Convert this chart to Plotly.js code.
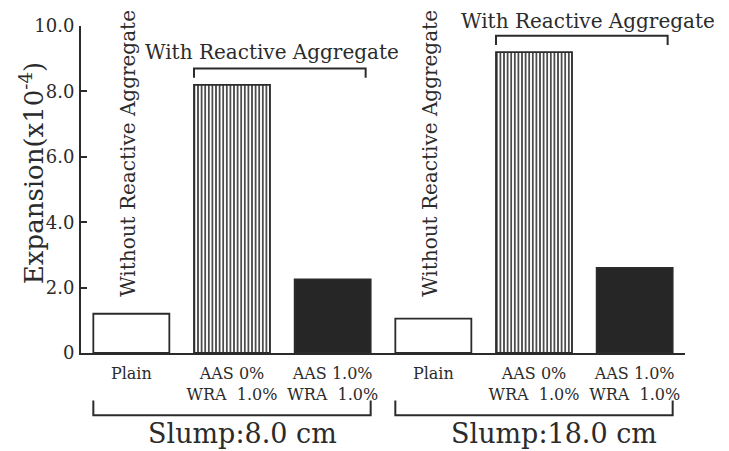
<!DOCTYPE html>
<html>
<head>
<meta charset="utf-8">
<script src="https://cdn.plot.ly/plotly-3.0.1.min.js"></script>
<style>html,body{margin:0;padding:0;background:#fff;}#chart{width:729px;height:451px;}</style>
</head>
<body>
<div id="chart"></div>
<script>
// ---- data ----
const categoryLabels = ["Plain", "AAS 0%<br>WRA  1.0%", "AAS 1.0%<br>WRA  1.0%"];
const groupLabels = ["Slump:8.0 cm", "Slump:18.0 cm"];
const plainValues = [1.2, 1.05];      // Without reactive aggregate
const aas0Values  = [8.2, 9.2];       // AAS 0%, WRA 1.0%
const aas1Values  = [2.25, 2.6];      // AAS 1.0%, WRA 1.0%
const yTickVals = [0, 2, 4, 6, 8, 10];
const yTickText = ["0", "2.0", "4.0", "6.0", "8.0", "10.0"];
const yTitle = "Expansion(x10<sup>-4</sup>)";
const withoutText = "Without Reactive Aggregate";
const withText = "With Reactive Aggregate";

// ---- layout helpers ----
const ink = "#2b2b2b";
const font = "DejaVu Serif, Liberation Serif, serif";
const nCat = categoryLabels.length;
const barW = 0.755;
const pos = (g, c) => g * nCat + c;
const withTextOffset = [-0.075, 0.065];
const withTextShift = [3, 1];

const xTickVals = [], xTickText = [];
groupLabels.forEach((g, gi) => categoryLabels.forEach((c, ci) => { xTickVals.push(pos(gi, ci)); xTickText.push(c); }));

const barLine = {color: ink, width: 1.8};
const traces = [
  {type: "bar", x: groupLabels.map((g, gi) => pos(gi, 0)), y: plainValues, width: barW,
   marker: {color: "#ffffff", line: barLine}, hoverinfo: "y"},
  {type: "bar", x: groupLabels.map((g, gi) => pos(gi, 1)), y: aas0Values, width: barW,
   marker: {color: "#ffffff", line: barLine,
            pattern: {shape: "|", fgcolor: ink, bgcolor: "#ffffff", size: 3.6, solidity: 0.42}}, hoverinfo: "y"},
  {type: "bar", x: groupLabels.map((g, gi) => pos(gi, 2)), y: aas1Values, width: barW,
   marker: {color: "#262626", line: barLine}, hoverinfo: "y"}
];

const shapes = [], annotations = [];
groupLabels.forEach((g, gi) => {
  const withMax = Math.max(aas0Values[gi], aas1Values[gi]);
  const yb = withMax + 0.5, yd = yb - 0.28;
  const x0 = pos(gi, 1) - barW / 2, x1 = pos(gi, 2) + barW / 2 - 0.05;
  shapes.push({type: "path", xref: "x", yref: "y",
    path: `M${x0},${yd} L${x0},${yb} L${x1},${yb} L${x1},${yd}`,
    line: {color: ink, width: 2}});
  annotations.push({xref: "x", yref: "y", x: (x0 + x1) / 2 + withTextOffset[gi], y: yb, yanchor: "bottom",
    yshift: withTextShift[gi], text: withText, showarrow: false, font: {family: font, size: 20, color: ink}});
  annotations.push({xref: "x", yref: "y", x: pos(gi, 0) - 0.04, y: 1.65, yanchor: "bottom", xanchor: "center",
    textangle: -90, text: withoutText, showarrow: false, font: {family: font, size: 20, color: ink}});
  // bottom group bracket
  const bx0 = pos(gi, 0) - barW / 2, bx1 = pos(gi, 2) + barW / 2;
  shapes.push({type: "path", xref: "x", yref: "paper",
    path: `M${bx0},-0.145 L${bx0},-0.19 L${bx1},-0.19 L${bx1},-0.145`,
    line: {color: ink, width: 2}});
  annotations.push({xref: "x", yref: "paper", x: pos(gi, 1) + 0.1 + gi * 0.1, y: -0.19, yanchor: "top", yshift: -1,
    text: g, showarrow: false, font: {family: font, size: 27, color: ink}});
});
annotations.push({xref: "paper", yref: "paper", x: 0, xshift: -49, xanchor: "center", yanchor: "middle",
  y: 0.55, textangle: -90, text: yTitle, showarrow: false, font: {family: font, size: 26, color: ink}});

const layout = {
  width: 729, height: 451,
  margin: {l: 81, r: 44, t: 26, b: 98, pad: 0},
  paper_bgcolor: "#ffffff", plot_bgcolor: "#ffffff",
  showlegend: false, barmode: "overlay",
  xaxis: {range: [-0.5, 5.5], tickvals: xTickVals, ticktext: xTickText, showgrid: false, zeroline: false,
          showline: true, linecolor: ink, linewidth: 2, ticks: "", ticklabelstandoff: 5,
          tickfont: {family: font, size: 16, color: ink}},
  yaxis: {range: [0, 10], tickvals: yTickVals, ticktext: yTickText, showgrid: false, zeroline: false,
          showline: true, linecolor: ink, linewidth: 2, ticks: "inside", ticklen: 6, tickwidth: 2, tickcolor: ink,
          ticklabelstandoff: 1, tickfont: {family: font, size: 18, color: ink}},
  shapes: shapes, annotations: annotations
};
Plotly.newPlot("chart", traces, layout, {staticPlot: true, displayModeBar: false});
</script>
</body>
</html>
